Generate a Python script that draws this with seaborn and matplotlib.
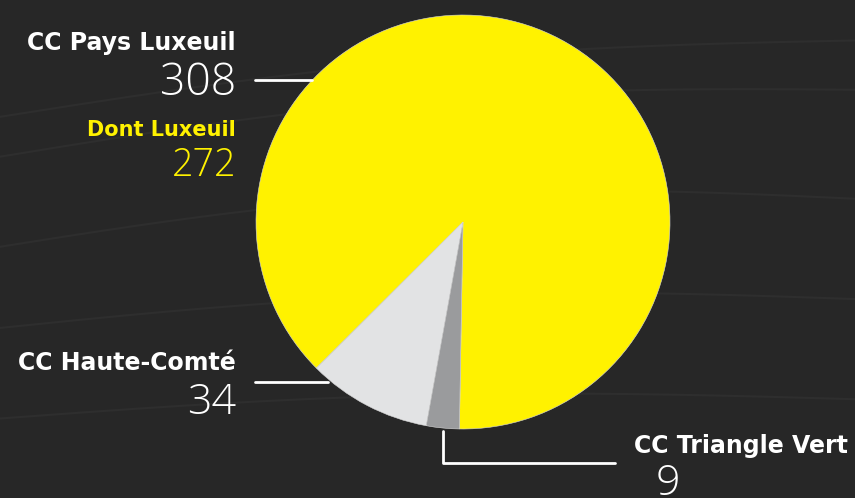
import matplotlib
matplotlib.use("Agg")
import matplotlib.pyplot as plt
import seaborn as sns
import numpy as np

categories = ["CC Pays Luxeuil", "CC Haute-Comté", "CC Triangle Vert"]
values = [308, 34, 9]
sub_label = "Dont Luxeuil"
sub_value = 272
colors = ["#FFF200", "#E2E3E4", "#9A9B9D"]

BG = "#272727"
sns.set_theme(style="white")
plt.rcParams["font.family"] = ["DejaVu Sans"]

W, H = 855, 498
fig = plt.figure(figsize=(W / 100, H / 100), dpi=100, facecolor=BG)
ax = fig.add_axes([0, 0, 1, 1])
ax.set_facecolor(BG)

def Y(py):
    return H - py

# faint decorative contour lines
t = np.linspace(0, 1, 200)
for y0, y1, amp in [(120, 40, 20), (160, 90, 25), (250, 200, 30), (330, 300, 20), (420, 400, 15)]:
    xs = np.linspace(-20, 880, 200)
    ys = y0 + (y1 - y0) * t - amp * np.sin(np.pi * t)
    ax.plot(xs, Y(ys), color="#2e2e2e", lw=1.5, zorder=0)

cx, cy, r = 463, Y(222), 207
ax.pie(values, colors=colors, startangle=269, counterclock=True,
       center=(cx, cy), radius=r, frame=True,
       wedgeprops=dict(linewidth=0.4, edgecolor="#d8d8d8"))
ax.set_xlim(0, W)
ax.set_ylim(0, H)
ax.set_aspect("equal")
ax.axis("off")

boldfont = ["DejaVu Sans"]
thinfont = ["Open Sans", "DejaVu Sans"]
bold = dict(fontweight="bold", ha="right", va="center", family=boldfont)
thin = dict(fontweight="light", ha="right", va="center", family=thinfont)

ax.text(236, Y(43), categories[0], color="white", fontsize=17, **bold)
ax.text(236, Y(84), str(values[0]), color="white", fontsize=32, **thin)
ax.text(236, Y(130), sub_label, color="#FFF200", fontsize=15, **bold)
ax.text(236, Y(166), str(sub_value), color="#FFF200", fontsize=27, **thin)
ax.text(236, Y(363), categories[1], color="white", fontsize=17, **bold)
ax.text(236, Y(403), str(values[1]), color="white", fontsize=31, **thin)
ax.text(848, Y(446), categories[2], color="white", fontsize=17, **bold)
ax.text(668, Y(484), str(values[2]), color="white", fontsize=31,
        fontweight="light", ha="center", va="center", family=thinfont)

lw = 2
ax.plot([255, 312], [Y(80), Y(80)], color="white", lw=lw)
ax.plot([255, 328], [Y(382), Y(382)], color="white", lw=lw)
ax.plot([443, 443, 615], [Y(431), Y(463), Y(463)], color="white", lw=lw)

fig.savefig("out.png", dpi=100, facecolor=BG)
